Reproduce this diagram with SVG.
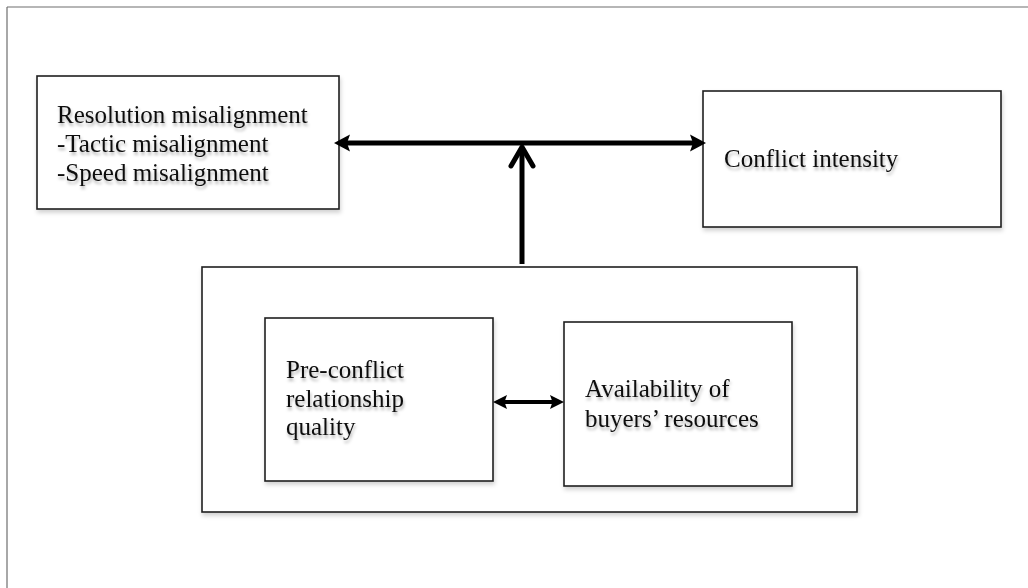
<svg xmlns="http://www.w3.org/2000/svg" width="1028" height="588" viewBox="0 0 1028 588">
  <defs>
    <style>
      .frame { stroke: #6e6e6e; stroke-width: 1.2; fill: none; }
      .box { fill: #ffffff; stroke: #1e1e1e; stroke-width: 1.6; filter: url(#boxShadow); }
      .label { font-family: "Liberation Serif", "Times New Roman", serif; font-size: 25px; fill: #111111; filter: url(#textShadow); }
      .link { stroke: #000000; fill: none; }
    </style>
    <filter id="boxShadow" x="-5%" y="-5%" width="115%" height="120%">
      <feDropShadow dx="1" dy="3" stdDeviation="2" flood-color="#000000" flood-opacity="0.18"/>
    </filter>
    <filter id="textShadow" x="-5%" y="-20%" width="115%" height="160%">
      <feDropShadow dx="1" dy="3" stdDeviation="1.5" flood-color="#000000" flood-opacity="0.3"/>
    </filter>
    <!-- solid head for the thick double-headed links -->
    <marker id="headLarge" markerUnits="userSpaceOnUse" markerWidth="18" markerHeight="18" viewBox="0 0 18 18" refX="4" refY="9" orient="auto-start-reverse" overflow="visible">
      <path d="M0,0.5 L16,9 L0,17.5 L3,9 z" fill="#000000"/>
    </marker>
    <marker id="headSmall" markerUnits="userSpaceOnUse" markerWidth="16" markerHeight="16" viewBox="0 0 16 16" refX="4" refY="8" orient="auto-start-reverse" overflow="visible">
      <path d="M0,1 L14,8 L0,15 L2.5,8 z" fill="#000000"/>
    </marker>
    <!-- open chevron head for the moderating link -->
    <marker id="chevron" markerUnits="userSpaceOnUse" markerWidth="30" markerHeight="30" viewBox="-25 -15 30 30" refX="0" refY="0" orient="auto" overflow="visible">
      <path d="M-19,-11 L0,0 L-19,11" fill="none" stroke="#000000" stroke-width="5" stroke-linecap="round" stroke-linejoin="round"/>
    </marker>
  </defs>

  <rect width="1028" height="588" fill="#ffffff"/>

  <!-- page frame (top and left rules) -->
  <g id="frame">
    <line class="frame" x1="7" y1="7" x2="1028" y2="7"/>
    <line class="frame" x1="7" y1="7" x2="7" y2="588"/>
  </g>

  <g id="resolution-misalignment">
    <rect class="box" x="37" y="76" width="302" height="133"/>
    <text class="label" x="57" y="123">Resolution misalignment</text>
    <text class="label" x="57" y="152">-Tactic misalignment</text>
    <text class="label" x="57" y="181">-Speed misalignment</text>
  </g>

  <g id="conflict-intensity">
    <rect class="box" x="703" y="91" width="298" height="136"/>
    <text class="label" x="724" y="167">Conflict intensity</text>
  </g>

  <g id="moderators">
    <rect class="box" x="202" y="267" width="655" height="245"/>
  </g>

  <g id="relationship-quality">
    <rect class="box" x="265" y="318" width="228" height="163"/>
    <text class="label" x="286" y="378">Pre-conflict</text>
    <text class="label" x="286" y="407">relationship</text>
    <text class="label" x="286" y="435">quality</text>
  </g>

  <g id="buyer-resources">
    <rect class="box" x="564" y="322" width="228" height="164"/>
    <text class="label" x="585" y="397">Availability of</text>
    <text class="label" x="585" y="427">buyers’ resources</text>
  </g>

  <g id="connectors">
    <line class="link" x1="346" y1="143" x2="694" y2="143" stroke-width="5" marker-start="url(#headLarge)" marker-end="url(#headLarge)"/>
    <line class="link" x1="522" y1="264" x2="522" y2="147" stroke-width="5" marker-end="url(#chevron)"/>
    <line class="link" x1="503" y1="402" x2="554" y2="402" stroke-width="4" marker-start="url(#headSmall)" marker-end="url(#headSmall)"/>
  </g>
</svg>
